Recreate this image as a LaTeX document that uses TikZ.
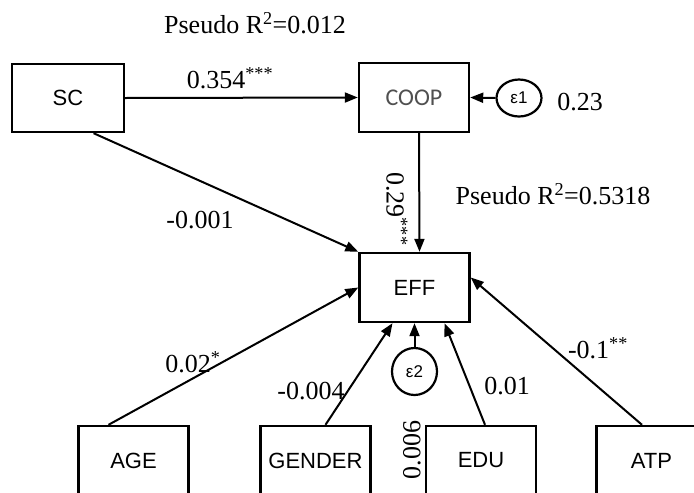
\documentclass[tikz,border=0pt]{standalone}
\usepackage{fontspec}
\setmainfont{Liberation Serif}
\newfontfamily\boxfont{Liberation Sans}
\newfontfamily\coopfont{Carlito}
\usetikzlibrary{arrows.meta,shapes.geometric}
\definecolor{coopgray}{HTML}{505050}
\tikzset{
  varbox/.style={draw,line width=2.4pt,rectangle,minimum width=110pt,minimum height=69pt,inner sep=0pt,font=\boxfont\fontsize{22}{24}\selectfont},
  errnode/.style={draw,line width=2.2pt,ellipse,inner sep=0pt,font=\boxfont\fontsize{17}{18}\selectfont},
  path/.style={line width=2pt,-{Triangle[length=13pt,width=10pt]}},
  coef/.style={inner sep=0pt,font=\fontsize{26}{28}\selectfont},
}
\begin{document}
\begin{tikzpicture}[x=1pt,y=-1pt]
\useasboundingbox (0,0) rectangle (694,493);
\clip (0,0) rectangle (694,493);
\node[varbox,minimum width=112pt,minimum height=68pt] (SC) at (68,98) {SC};
\node[varbox,font=\coopfont\fontsize{24}{26}\selectfont\color{coopgray}] (COOP) at (414,97.5) {COOP};
\node[varbox] (EFF) at (414.5,287.5) {EFF};
\node[varbox] (AGE) at (133.5,460.5) {AGE};
\node[varbox] (GENDER) at (315.5,460.5) {GENDER};
\node[varbox] (EDU) at (481,460.5) {EDU};
\node[varbox] (ATP) at (651.5,460.5) {ATP};
\node[errnode,minimum width=45pt,minimum height=37pt] (e1) at (519,98) {ε1};
\node[errnode,minimum width=45pt,minimum height=47pt] (e2) at (414.5,371.5) {ε2};

\draw[path] (SC.east) -- (COOP.west);
\draw[path] (SC.-54) -- (EFF.north west);
\draw[path] ([xshift=5pt]COOP.south) -- ([xshift=5pt]EFF.north);
\draw[path] (e1.west) -- (COOP.east);
\draw[path] ([xshift=-25pt]AGE.north) -- (EFF.west);
\draw[path] ([xshift=10pt]GENDER.north) -- ([xshift=-22pt]EFF.south);
\draw[path] (e2.north) -- (EFF.south);
\draw[path] ([xshift=4pt]EDU.north) -- ([xshift=30pt]EFF.south);
\draw[path] ([xshift=-9.5pt]ATP.north) -- ([yshift=10pt]EFF.east);

\node[coef] (r1) at (255,23) {Pseudo R\textsuperscript{2}=0.012};
\node[coef] (r2) at (553,194) {Pseudo R\textsuperscript{2}=0.5318};
\node[coef] (l1) at (230,78) {0.354\textsuperscript{***}};
\node[coef] (l2) at (580,102) {0.23};
\node[coef,rotate=-90] (l3) at (397,209) {0.29\textsuperscript{***}};
\node[coef] (l4) at (200,220) {-0.001};
\node[coef] (l5) at (193,362) {0.02\textsuperscript{*}};
\node[coef] (l6) at (311,391) {-0.004};
\node[coef] (l7) at (507,386) {0.01};
\node[coef] (l8) at (598,348) {-0.1\textsuperscript{**}};
\node[coef,rotate=90] (l9) at (412,450) {0.006};
\end{tikzpicture}
\end{document}
